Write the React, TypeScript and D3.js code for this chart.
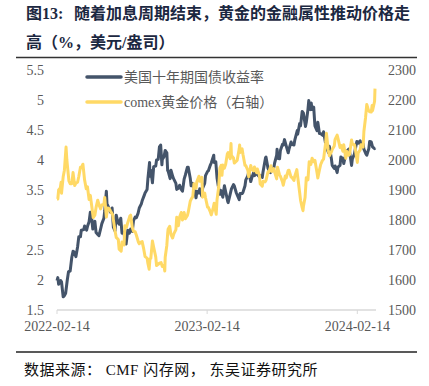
import React from "react";
import * as d3 from "d3";

// 美国十年期国债收益率 (%)
const yieldSeries: [string, number][] = [
  ["2022-02-14", 1.99], ["2022-02-16", 2.04], ["2022-02-18", 1.93], ["2022-02-23", 1.99], ["2022-02-25", 1.97],
  ["2022-03-01", 1.72], ["2022-03-04", 1.74], ["2022-03-07", 1.78], ["2022-03-11", 2.0], ["2022-03-14", 2.14],
  ["2022-03-18", 2.15], ["2022-03-22", 2.38], ["2022-03-25", 2.48], ["2022-03-28", 2.46], ["2022-04-01", 2.39],
  ["2022-04-05", 2.55], ["2022-04-08", 2.72], ["2022-04-12", 2.72], ["2022-04-14", 2.83], ["2022-04-20", 2.84],
  ["2022-04-22", 2.9], ["2022-04-27", 2.83], ["2022-04-29", 2.89], ["2022-05-03", 2.97], ["2022-05-06", 3.13],
  ["2022-05-09", 3.05], ["2022-05-12", 2.85], ["2022-05-13", 2.93], ["2022-05-17", 2.98], ["2022-05-20", 2.79],
  ["2022-05-24", 2.76], ["2022-05-27", 2.74], ["2022-05-31", 2.85], ["2022-06-03", 2.94], ["2022-06-08", 3.03],
  ["2022-06-10", 3.15], ["2022-06-14", 3.48], ["2022-06-16", 3.2], ["2022-06-17", 3.25], ["2022-06-22", 3.16],
  ["2022-06-24", 3.13], ["2022-06-28", 3.2], ["2022-07-01", 2.88], ["2022-07-05", 2.82], ["2022-07-08", 3.08],
  ["2022-07-12", 2.96], ["2022-07-15", 2.93], ["2022-07-19", 3.03], ["2022-07-22", 2.78], ["2022-07-27", 2.8],
  ["2022-07-29", 2.65], ["2022-08-01", 2.6], ["2022-08-05", 2.83], ["2022-08-09", 2.78], ["2022-08-12", 2.85],
  ["2022-08-16", 2.81], ["2022-08-19", 2.99], ["2022-08-23", 3.05], ["2022-08-26", 3.04], ["2022-08-30", 3.11],
  ["2022-09-02", 3.2], ["2022-09-07", 3.27], ["2022-09-09", 3.32], ["2022-09-14", 3.41], ["2022-09-16", 3.45],
  ["2022-09-21", 3.51], ["2022-09-23", 3.69], ["2022-09-27", 3.96], ["2022-09-28", 3.73], ["2022-09-30", 3.83],
  ["2022-10-04", 3.62], ["2022-10-07", 3.89], ["2022-10-12", 3.9], ["2022-10-14", 4.0], ["2022-10-18", 4.01],
  ["2022-10-21", 4.22], ["2022-10-24", 4.25], ["2022-10-27", 3.92], ["2022-10-28", 4.01], ["2022-11-01", 4.05],
  ["2022-11-04", 4.16], ["2022-11-08", 4.12], ["2022-11-10", 3.82], ["2022-11-11", 3.82], ["2022-11-16", 3.69],
  ["2022-11-18", 3.83], ["2022-11-23", 3.71], ["2022-11-25", 3.68], ["2022-11-30", 3.61], ["2022-12-02", 3.51],
  ["2022-12-06", 3.53], ["2022-12-09", 3.58], ["2022-12-13", 3.51], ["2022-12-16", 3.48], ["2022-12-20", 3.68],
  ["2022-12-23", 3.75], ["2022-12-28", 3.88], ["2022-12-30", 3.88],
  ["2023-01-04", 3.69], ["2023-01-06", 3.57], ["2023-01-10", 3.61], ["2023-01-13", 3.51], ["2023-01-18", 3.37],
  ["2023-01-20", 3.48], ["2023-01-25", 3.45], ["2023-01-27", 3.52], ["2023-02-01", 3.4], ["2023-02-03", 3.53],
  ["2023-02-08", 3.61], ["2023-02-10", 3.74], ["2023-02-15", 3.81], ["2023-02-17", 3.82], ["2023-02-22", 3.92],
  ["2023-02-24", 3.95], ["2023-03-02", 4.08], ["2023-03-03", 3.96], ["2023-03-07", 3.97], ["2023-03-10", 3.7],
  ["2023-03-13", 3.57], ["2023-03-17", 3.43], ["2023-03-20", 3.49], ["2023-03-24", 3.38], ["2023-03-28", 3.57],
  ["2023-03-31", 3.47], ["2023-04-05", 3.31], ["2023-04-06", 3.29], ["2023-04-11", 3.43], ["2023-04-14", 3.52],
  ["2023-04-19", 3.59], ["2023-04-21", 3.57], ["2023-04-26", 3.45], ["2023-04-28", 3.42], ["2023-05-03", 3.34],
  ["2023-05-05", 3.44], ["2023-05-10", 3.44], ["2023-05-12", 3.46], ["2023-05-17", 3.57], ["2023-05-19", 3.67],
  ["2023-05-24", 3.74], ["2023-05-26", 3.8], ["2023-05-31", 3.64], ["2023-06-02", 3.69], ["2023-06-07", 3.79],
  ["2023-06-09", 3.74], ["2023-06-14", 3.79], ["2023-06-16", 3.76], ["2023-06-21", 3.72], ["2023-06-23", 3.74],
  ["2023-06-28", 3.71], ["2023-06-30", 3.81], ["2023-07-06", 4.04], ["2023-07-07", 4.05], ["2023-07-12", 3.86],
  ["2023-07-14", 3.83], ["2023-07-18", 3.79], ["2023-07-21", 3.84], ["2023-07-26", 3.87], ["2023-07-28", 3.95],
  ["2023-08-02", 4.08], ["2023-08-03", 4.18], ["2023-08-04", 4.03], ["2023-08-09", 4.02], ["2023-08-11", 4.16],
  ["2023-08-16", 4.26], ["2023-08-18", 4.25], ["2023-08-21", 4.34], ["2023-08-25", 4.24], ["2023-08-30", 4.12],
  ["2023-09-01", 4.18], ["2023-09-06", 4.3], ["2023-09-08", 4.26], ["2023-09-13", 4.25], ["2023-09-15", 4.33],
  ["2023-09-21", 4.49], ["2023-09-22", 4.43], ["2023-09-27", 4.61], ["2023-09-29", 4.57], ["2023-10-03", 4.81],
  ["2023-10-06", 4.78], ["2023-10-11", 4.56], ["2023-10-13", 4.63], ["2023-10-17", 4.84], ["2023-10-19", 4.99],
  ["2023-10-20", 4.91], ["2023-10-23", 4.84], ["2023-10-25", 4.95], ["2023-10-27", 4.84], ["2023-10-31", 4.88],
  ["2023-11-02", 4.67], ["2023-11-03", 4.57], ["2023-11-08", 4.49], ["2023-11-10", 4.63], ["2023-11-14", 4.44],
  ["2023-11-17", 4.44], ["2023-11-22", 4.41], ["2023-11-24", 4.47], ["2023-11-29", 4.27], ["2023-12-01", 4.22],
  ["2023-12-06", 4.12], ["2023-12-08", 4.23], ["2023-12-13", 4.02], ["2023-12-15", 3.91], ["2023-12-20", 3.86],
  ["2023-12-22", 3.9], ["2023-12-27", 3.79], ["2023-12-29", 3.88],
  ["2024-01-03", 3.91], ["2024-01-05", 4.05], ["2024-01-10", 4.02], ["2024-01-12", 3.94], ["2024-01-17", 4.1],
  ["2024-01-19", 4.14], ["2024-01-24", 4.18], ["2024-01-26", 4.15], ["2024-01-31", 3.91], ["2024-02-02", 4.02],
  ["2024-02-07", 4.1], ["2024-02-09", 4.18], ["2024-02-13", 4.31], ["2024-02-16", 4.28], ["2024-02-21", 4.32],
  ["2024-02-23", 4.25], ["2024-02-28", 4.27], ["2024-03-01", 4.18], ["2024-03-06", 4.1], ["2024-03-08", 4.08],
  ["2024-03-13", 4.19], ["2024-03-15", 4.31], ["2024-03-19", 4.3], ["2024-03-22", 4.22], ["2024-03-27", 4.19],
  ["2024-03-28", 4.2],
];

// comex黄金价格 (美元/盎司, 右轴)
const goldSeries: [string, number][] = [
  ["2022-02-14", 1870], ["2022-02-16", 1870], ["2022-02-18", 1900], ["2022-02-22", 1907], ["2022-02-24", 1926],
  ["2022-02-25", 1889], ["2022-03-01", 1944], ["2022-03-04", 1966], ["2022-03-08", 2043], ["2022-03-10", 2000],
  ["2022-03-11", 1985], ["2022-03-15", 1930], ["2022-03-18", 1921], ["2022-03-22", 1921], ["2022-03-25", 1958],
  ["2022-03-29", 1915], ["2022-04-01", 1923], ["2022-04-05", 1926], ["2022-04-08", 1945], ["2022-04-12", 1976],
  ["2022-04-14", 1974], ["2022-04-18", 1986], ["2022-04-22", 1934], ["2022-04-26", 1904], ["2022-04-29", 1911],
  ["2022-05-03", 1868], ["2022-05-06", 1882], ["2022-05-10", 1841], ["2022-05-13", 1808], ["2022-05-17", 1816],
  ["2022-05-20", 1842], ["2022-05-24", 1866], ["2022-05-27", 1851], ["2022-05-31", 1837], ["2022-06-03", 1850],
  ["2022-06-08", 1852], ["2022-06-10", 1875], ["2022-06-14", 1810], ["2022-06-17", 1840], ["2022-06-21", 1838],
  ["2022-06-24", 1830], ["2022-06-29", 1818], ["2022-07-01", 1801], ["2022-07-05", 1764], ["2022-07-08", 1742],
  ["2022-07-13", 1735], ["2022-07-15", 1703], ["2022-07-20", 1696], ["2022-07-22", 1727], ["2022-07-27", 1717],
  ["2022-07-29", 1781], ["2022-08-02", 1776], ["2022-08-05", 1791], ["2022-08-10", 1813], ["2022-08-12", 1816],
  ["2022-08-16", 1775], ["2022-08-19", 1762], ["2022-08-23", 1761], ["2022-08-26", 1749], ["2022-08-31", 1726],
  ["2022-09-02", 1721], ["2022-09-07", 1727], ["2022-09-09", 1728], ["2022-09-13", 1702], ["2022-09-16", 1678],
  ["2022-09-21", 1673], ["2022-09-23", 1655], ["2022-09-26", 1636], ["2022-09-28", 1670], ["2022-09-30", 1672],
  ["2022-10-04", 1730], ["2022-10-07", 1709], ["2022-10-12", 1677], ["2022-10-14", 1648], ["2022-10-18", 1652],
  ["2022-10-21", 1656], ["2022-10-25", 1658], ["2022-10-28", 1645], ["2022-11-01", 1649], ["2022-11-03", 1630],
  ["2022-11-04", 1676], ["2022-11-08", 1716], ["2022-11-10", 1755], ["2022-11-11", 1769], ["2022-11-15", 1779],
  ["2022-11-18", 1751], ["2022-11-22", 1740], ["2022-11-25", 1754], ["2022-11-30", 1768], ["2022-12-02", 1809],
  ["2022-12-06", 1781], ["2022-12-09", 1810], ["2022-12-13", 1825], ["2022-12-16", 1800], ["2022-12-20", 1825],
  ["2022-12-23", 1804], ["2022-12-28", 1815], ["2022-12-30", 1826],
  ["2023-01-04", 1863], ["2023-01-06", 1869], ["2023-01-10", 1878], ["2023-01-13", 1921], ["2023-01-18", 1906],
  ["2023-01-20", 1928], ["2023-01-25", 1946], ["2023-01-27", 1929], ["2023-02-01", 1942], ["2023-02-02", 1913],
  ["2023-02-03", 1876], ["2023-02-08", 1890], ["2023-02-10", 1874], ["2023-02-15", 1843], ["2023-02-17", 1842],
  ["2023-02-22", 1826], ["2023-02-24", 1817], ["2023-02-28", 1836], ["2023-03-03", 1856], ["2023-03-08", 1819],
  ["2023-03-10", 1867], ["2023-03-14", 1910], ["2023-03-17", 1973], ["2023-03-20", 1982], ["2023-03-22", 1949],
  ["2023-03-24", 1983], ["2023-03-28", 1973], ["2023-03-31", 1986], ["2023-04-04", 2020], ["2023-04-06", 2025],
  ["2023-04-11", 2004], ["2023-04-13", 2055], ["2023-04-14", 2015], ["2023-04-19", 2007], ["2023-04-21", 1990],
  ["2023-04-26", 1996], ["2023-04-28", 1999], ["2023-05-03", 2038], ["2023-05-04", 2050], ["2023-05-05", 2025],
  ["2023-05-10", 2037], ["2023-05-12", 2019], ["2023-05-17", 1982], ["2023-05-19", 1981], ["2023-05-24", 1965],
  ["2023-05-26", 1944], ["2023-05-31", 1982], ["2023-06-02", 1969], ["2023-06-07", 1964], ["2023-06-09", 1977],
  ["2023-06-14", 1958], ["2023-06-16", 1970], ["2023-06-21", 1949], ["2023-06-23", 1920], ["2023-06-28", 1913],
  ["2023-06-30", 1929], ["2023-07-05", 1927], ["2023-07-07", 1932], ["2023-07-12", 1961], ["2023-07-14", 1960],
  ["2023-07-19", 1981], ["2023-07-21", 1962], ["2023-07-26", 1971], ["2023-07-28", 1960], ["2023-08-02", 1937],
  ["2023-08-04", 1976], ["2023-08-09", 1950], ["2023-08-11", 1946], ["2023-08-16", 1928], ["2023-08-18", 1916],
  ["2023-08-23", 1947], ["2023-08-25", 1940], ["2023-08-30", 1965], ["2023-09-01", 1966], ["2023-09-06", 1943],
  ["2023-09-08", 1942], ["2023-09-13", 1932], ["2023-09-15", 1946], ["2023-09-20", 1968], ["2023-09-22", 1945],
  ["2023-09-27", 1890], ["2023-09-29", 1866], ["2023-10-03", 1841], ["2023-10-05", 1831], ["2023-10-06", 1845],
  ["2023-10-10", 1875], ["2023-10-13", 1941], ["2023-10-17", 1934], ["2023-10-20", 1994], ["2023-10-24", 1985],
  ["2023-10-27", 2006], ["2023-10-31", 1994], ["2023-11-03", 1999], ["2023-11-08", 1958], ["2023-11-10", 1940],
  ["2023-11-14", 1967], ["2023-11-17", 1985], ["2023-11-21", 1998], ["2023-11-24", 2003], ["2023-11-29", 2057],
  ["2023-12-01", 2089], ["2023-12-05", 2036], ["2023-12-08", 2014], ["2023-12-13", 2027], ["2023-12-15", 2035],
  ["2023-12-20", 2047], ["2023-12-22", 2069], ["2023-12-27", 2083], ["2023-12-29", 2072],
  ["2024-01-03", 2042], ["2024-01-05", 2049], ["2024-01-10", 2029], ["2024-01-12", 2051], ["2024-01-17", 2006],
  ["2024-01-19", 2029], ["2024-01-24", 2016], ["2024-01-26", 2018], ["2024-01-31", 2067], ["2024-02-02", 2053],
  ["2024-02-07", 2051], ["2024-02-09", 2038], ["2024-02-14", 1992], ["2024-02-16", 2024], ["2024-02-21", 2034],
  ["2024-02-23", 2051], ["2024-02-28", 2043], ["2024-03-01", 2095], ["2024-03-05", 2141], ["2024-03-08", 2185],
  ["2024-03-12", 2166], ["2024-03-15", 2161], ["2024-03-19", 2160], ["2024-03-21", 2182], ["2024-03-22", 2164],
  ["2024-03-27", 2196], ["2024-03-28", 2238],
];

const leftTicks = [1.5, 2, 2.5, 3, 3.5, 4, 4.5, 5, 5.5];
const rightTicks = [1500, 1600, 1700, 1800, 1900, 2000, 2100, 2200, 2300];
const dateTicks = ["2022-02-14", "2023-02-14", "2024-02-14"];

const titleLabel = "图13:";
const titleLine1 = "随着加息周期结束，黄金的金融属性推动价格走";
const titleLine2 = "高（%，美元/盎司）";
const legendNames = ["美国十年期国债收益率", "comex黄金价格（右轴）"];
const sourceText = "数据来源： CMF 闪存网， 东吴证券研究所";

const W = 429;
const H = 386;
const serif = "'Liberation Serif', 'Times New Roman', 'Noto Sans CJK SC', serif";
const navy = "#44546a";
const gold = "#ffd966";
const tickColor = "#595959";
const titleColor = "#1c2841";

const parse = d3.timeParse("%Y-%m-%d");

const App: React.FC = () => {
  const y1 = yieldSeries.map(([d, v]) => ({ date: parse(d)!, v }));
  const g1 = goldSeries.map(([d, v]) => ({ date: parse(d)!, v }));

  const x = d3
    .scaleTime()
    .domain([parse("2022-02-14")!, parse("2024-03-28")!])
    .range([57, 375]);
  const yLeft = d3.scaleLinear().domain([1.5, 5.5]).range([310, 70]);
  const yRight = d3.scaleLinear().domain([1500, 2300]).range([310, 70]);

  const lineL = d3
    .line<{ date: Date; v: number }>()
    .x(d => x(d.date))
    .y(d => yLeft(d.v));
  const lineR = d3
    .line<{ date: Date; v: number }>()
    .x(d => x(d.date))
    .y(d => yRight(d.v));

  const fmt = d3.timeFormat("%Y-%m-%d");

  return (
    <svg
      width={W}
      height={H}
      style={{ position: "absolute", left: 0, top: 0, background: "#fff" }}
    >
      <rect width={W} height={H} fill="#fff" />
      {/* title */}
      <text x={26} y={19} fontFamily={serif} fontWeight="bold" fontSize={16} fill={titleColor}>
        {titleLabel}
      </text>
      <text x={74} y={19} fontFamily={serif} fontWeight="bold" fontSize={16} fill={titleColor}>
        {titleLine1}
      </text>
      <text x={26} y={48} fontFamily={serif} fontWeight="bold" fontSize={16} fill={titleColor}>
        {titleLine2}
      </text>
      <line x1={16} x2={417} y1={57.5} y2={57.5} stroke="#333" strokeWidth={1.5} />

      {/* x axis */}
      <line x1={57} x2={376} y1={310} y2={310} stroke="#d9d9d9" strokeWidth={1.5} />
      {dateTicks.map(t => {
        const xx = x(parse(t)!);
        return (
          <g key={t}>
            <line x1={xx} x2={xx} y1={310} y2={314} stroke="#d9d9d9" />
            <text
              x={xx}
              y={331}
              textAnchor="middle"
              fontFamily={serif}
              fontSize={14}
              fill={tickColor}
            >
              {fmt(parse(t)!)}
            </text>
          </g>
        );
      })}

      {/* left ticks */}
      {leftTicks.map(t => (
        <text
          key={t}
          x={44}
          y={yLeft(t)}
          dy="0.35em"
          textAnchor="end"
          fontFamily={serif}
          fontSize={14}
          fill={tickColor}
        >
          {t}
        </text>
      ))}
      {/* right ticks */}
      {rightTicks.map(t => (
        <text
          key={t}
          x={388}
          y={yRight(t)}
          dy="0.35em"
          fontFamily={serif}
          fontSize={14}
          fill={tickColor}
        >
          {t}
        </text>
      ))}

      {/* lines */}
      <path d={lineL(y1) || ""} fill="none" stroke={navy} strokeWidth={3} strokeLinejoin="round" />
      <path d={lineR(g1) || ""} fill="none" stroke={gold} strokeWidth={3} strokeLinejoin="round" />

      {/* legend */}
      {legendNames.map((n, i) => (
        <g key={n} transform={`translate(0, ${77 + i * 25})`}>
          <line x1={87} x2={121} y1={0} y2={0} stroke={i === 0 ? navy : gold} strokeWidth={3.5} strokeLinecap="round" />
          <text x={124} y={0} dy="0.35em" fontFamily={serif} fontSize={14} fill={tickColor}>
            {n}
          </text>
        </g>
      ))}

      {/* source */}
      <line x1={16} x2={417} y1={352} y2={352} stroke="#222" strokeWidth={1.5} />
      <text x={24} y={375} fontFamily={serif} fontSize={15} letterSpacing={0.5} fill="#111">
        {sourceText}
      </text>
    </svg>
  );
};

export default App;
